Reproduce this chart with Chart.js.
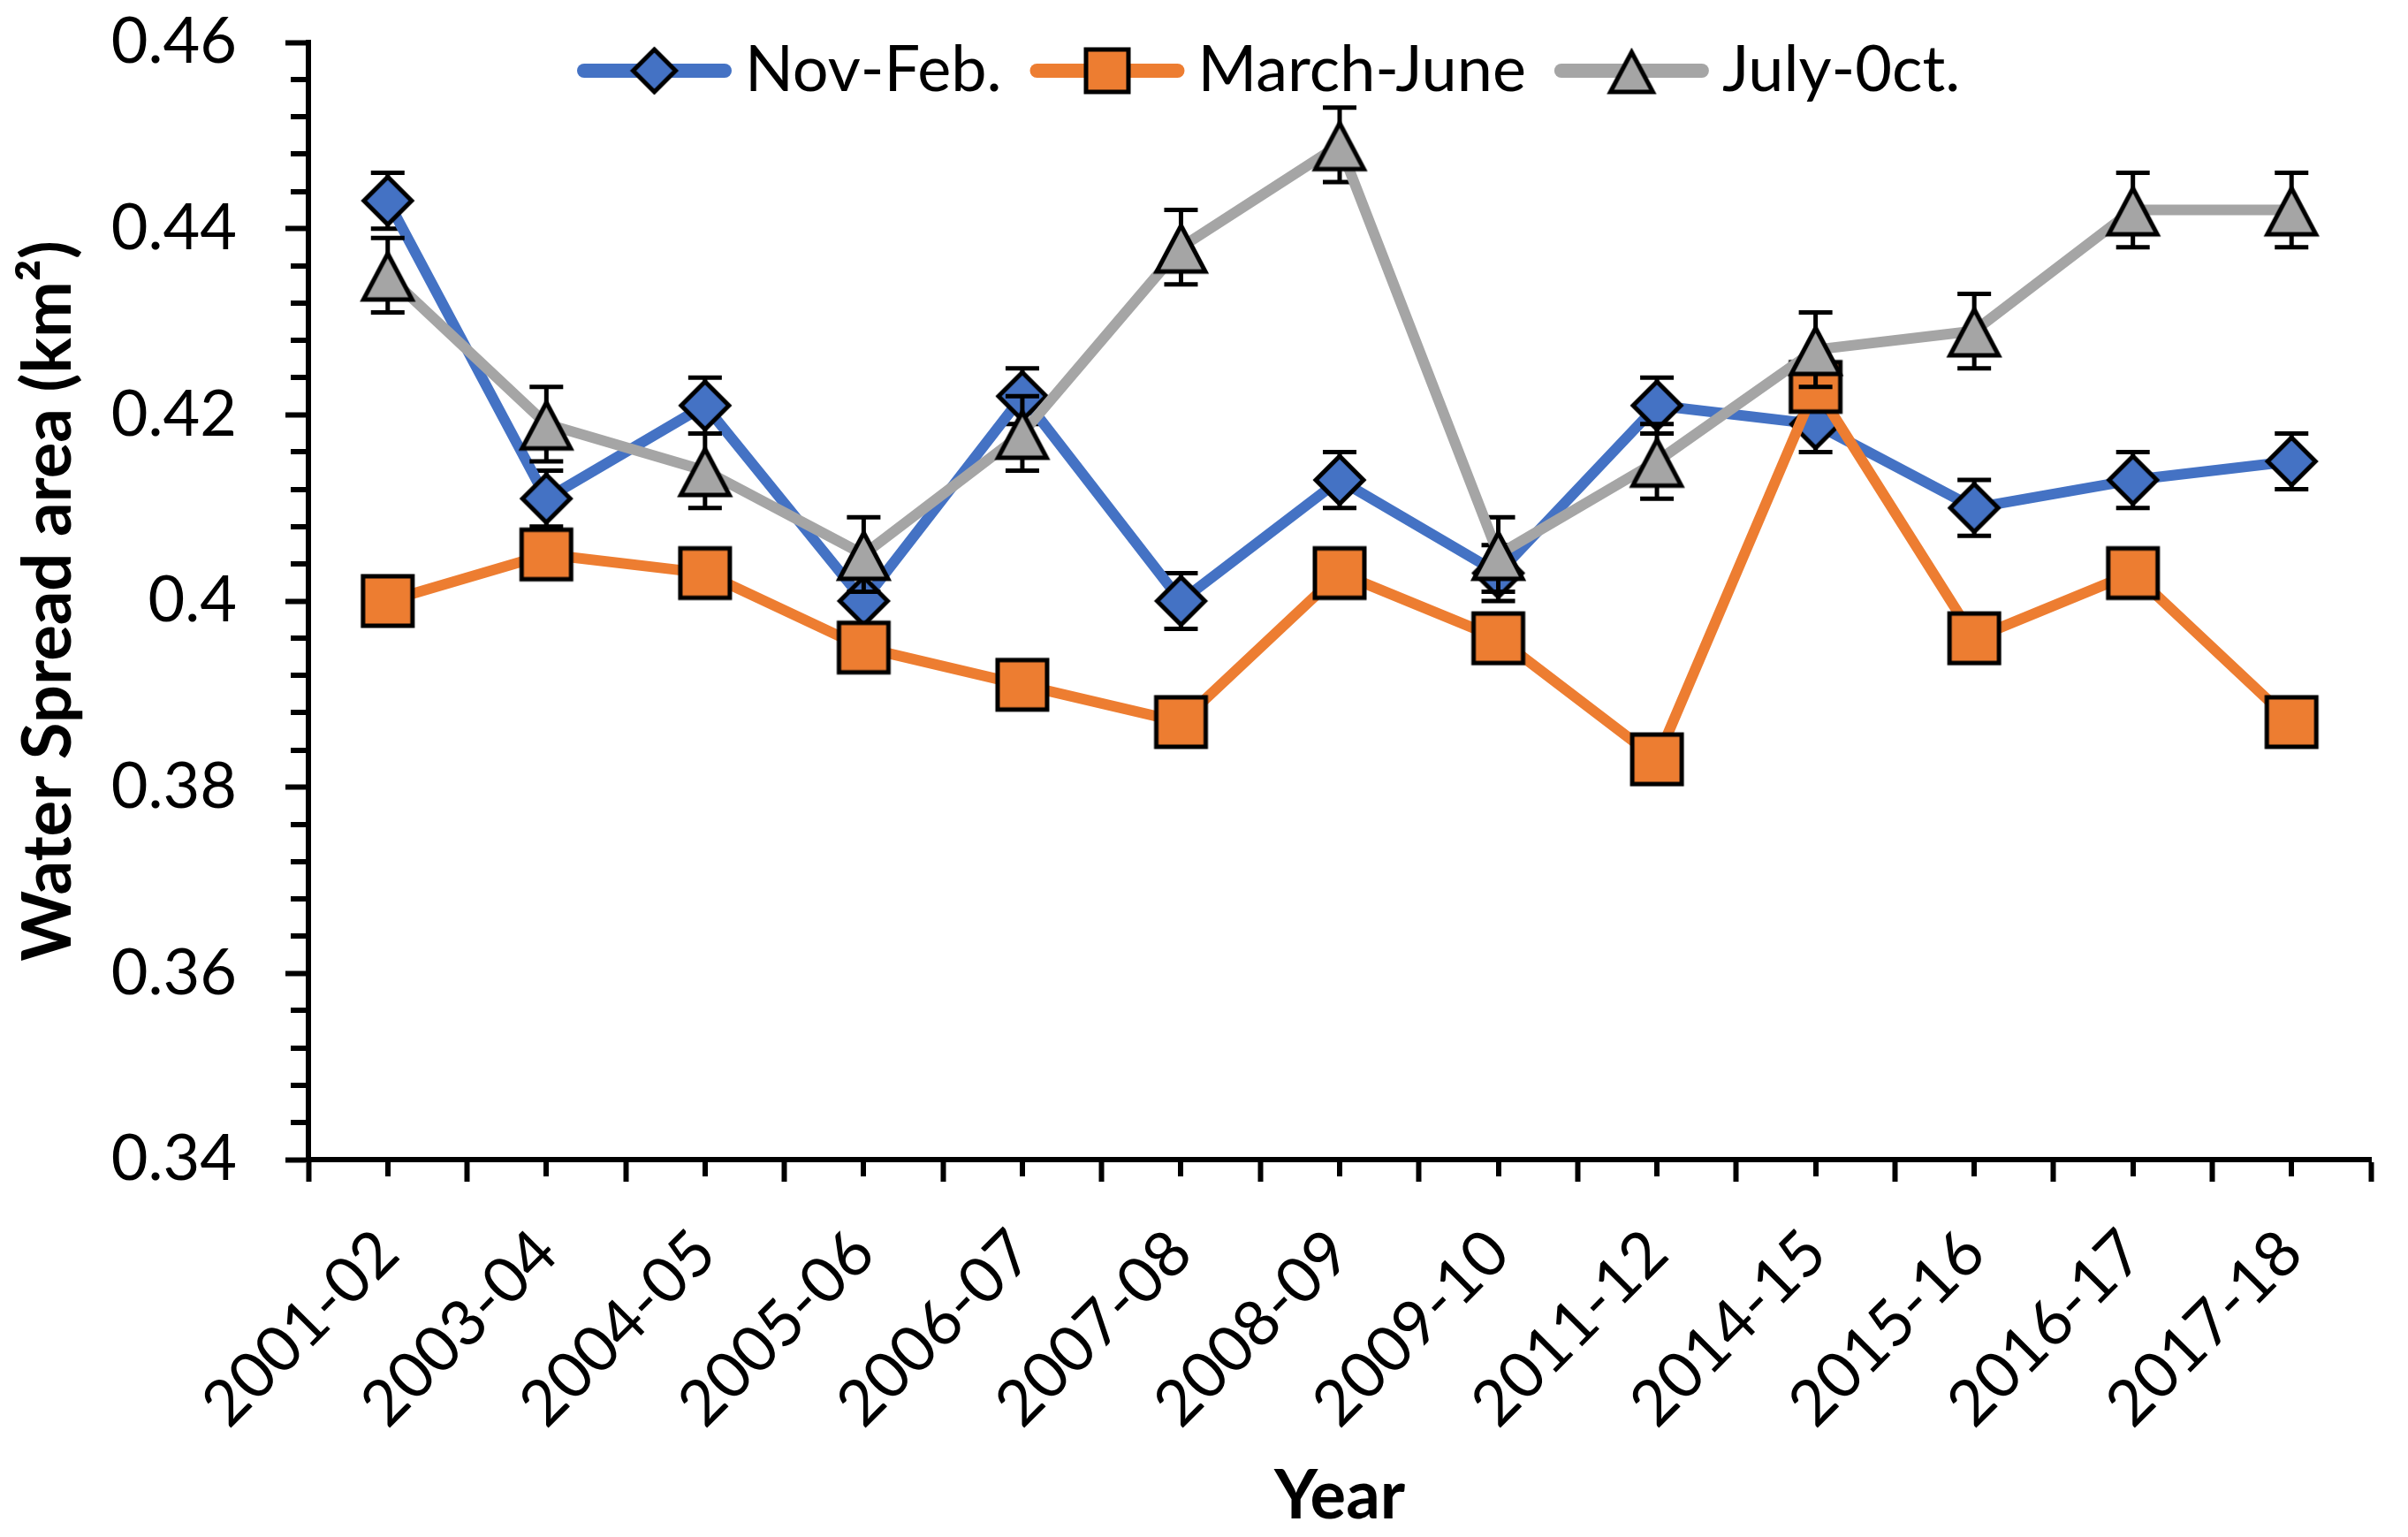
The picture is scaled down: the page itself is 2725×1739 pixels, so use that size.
<!DOCTYPE html>
<html>
<head>
<meta charset="utf-8">
<script src="https://cdn.jsdelivr.net/npm/chart.js@4"></script>
<style>
html,body{margin:0;padding:0;background:#fff;}
canvas{display:block;}
</style>
</head>
<body>
<canvas id="c" width="2725" height="1739"></canvas>
<script>
// ---------------- data ----------------
const categories = ['2001-02','2003-04','2004-05','2005-06','2006-07','2007-08','2008-09','2009-10','2011-12','2014-15','2015-16','2016-17','2017-18'];
const seriesNames = ['Nov-Feb.', 'March-June', 'July-0ct.'];
const novFeb      = [0.443,0.411,0.421,0.400,0.422,0.400,0.413,0.403,0.421,0.419,0.410,0.413,0.415];
const novFebErr   = [0.003,0.003,0.003,0.003,0.003,0.003,0.003,0.003,0.003,0.003,0.003,0.003,0.003];
const marchJune    = [0.400,0.405,0.403,0.395,0.391,0.387,0.403,0.396,0.383,0.423,0.396,0.403,0.387];
const marchJuneErr = [0.002,0.002,0.002,0.002,0.002,0.002,0.002,0.002,0.002,0.002,0.002,0.002,0.002];
const julyOct     = [0.435,0.419,0.414,0.405,0.418,0.438,0.449,0.405,0.415,0.427,0.429,0.442,0.442];
const julyOctErr  = [0.004,0.004,0.004,0.004,0.004,0.004,0.004,0.004,0.004,0.004,0.004,0.004,0.004];
const yTicks = [0.34, 0.36, 0.38, 0.40, 0.42, 0.44, 0.46];
const yMinorPerMajor = 5;

// ---------------- styles ----------------
const BLUE = '#4472C4', ORANGE = '#ED7D31', GRAY = '#A5A5A5';
Chart.defaults.font.family = 'Lato';
Chart.defaults.color = '#000';

function makeMarker(shape, w, h, fill) {
  const bw = 5, m = 8;
  const c = document.createElement('canvas');
  c.width = w + 2 * m; c.height = h + 2 * m;
  const g = c.getContext('2d');
  g.fillStyle = fill; g.strokeStyle = '#000'; g.lineWidth = bw; g.lineJoin = 'miter';
  const L = m, T = m, R = m + w, B = m + h, CX = m + w / 2, CY = m + h / 2;
  g.beginPath();
  if (shape === 'diamond') {
    g.moveTo(CX, T); g.lineTo(R, CY); g.lineTo(CX, B); g.lineTo(L, CY);
  } else if (shape === 'square') {
    g.moveTo(L, T); g.lineTo(R, T); g.lineTo(R, B); g.lineTo(L, B);
  } else {
    g.moveTo(CX, T + 3); g.lineTo(R, B); g.lineTo(L, B);
  }
  g.closePath(); g.fill(); g.stroke();
  return c;
}

const mkDiamond = makeMarker('diamond', 54, 54, BLUE);
const mkSquare  = makeMarker('square', 56, 56, ORANGE);
const mkTri     = makeMarker('triangle', 55, 55, GRAY);
const lgDiamond = makeMarker('diamond', 48, 48, BLUE);
const lgSquare  = makeMarker('square', 48, 48, ORANGE);
const lgTri     = makeMarker('triangle', 48, 48, GRAY);

// error bars drawn beneath each series' line & markers
const errorBarPlugin = {
  id: 'errorBars',
  beforeDatasetDraw(chart, args) {
    const ds = chart.data.datasets[args.index];
    const errs = ds.errors;
    if (!errs) return;
    const xs = chart.scales.x, ys = chart.scales.y, ctx = chart.ctx;
    ctx.save();
    ctx.strokeStyle = '#000'; ctx.lineWidth = 5; ctx.lineCap = 'butt';
    ds.data.forEach((v, i) => {
      const px = xs.getPixelForValue(i);
      const top = ys.getPixelForValue(v + errs[i]);
      const bot = ys.getPixelForValue(v - errs[i]);
      ctx.beginPath();
      ctx.moveTo(px, top); ctx.lineTo(px, bot);
      ctx.moveTo(px - 19, top); ctx.lineTo(px + 19, top);
      ctx.moveTo(px - 19, bot); ctx.lineTo(px + 19, bot);
      ctx.stroke();
    });
    ctx.restore();
  }
};

// minor ticks on both axes
const minorTickPlugin = {
  id: 'minorTicks',
  afterDraw(chart) {
    const {ctx, chartArea, scales: {x, y}} = chart;
    ctx.save();
    ctx.strokeStyle = '#000'; ctx.lineWidth = 6; ctx.lineCap = 'butt';
    ctx.beginPath();
    for (let j = 0; j < yTicks.length - 1; j++) {
      const step = (yTicks[j + 1] - yTicks[j]) / yMinorPerMajor;
      for (let k = 1; k < yMinorPerMajor; k++) {
        const py = Math.round(y.getPixelForValue(yTicks[j] + k * step));
        ctx.moveTo(chartArea.left, py); ctx.lineTo(chartArea.left - 20, py);
      }
    }
    categories.forEach((c, i) => {
      const px = Math.round(x.getPixelForValue(i));
      ctx.moveTo(px, chartArea.bottom); ctx.lineTo(px, chartArea.bottom + 19);
    });
    ctx.stroke();
    ctx.restore();
  }
};

// legend: line + marker + text, placed inside the plot area
const legendPlugin = {
  id: 'lineLegend',
  afterDatasetsDraw(chart) {
    const ctx = chart.ctx;
    let x = 653;
    const cy = 80, baseline = 103, lineLen = 175;
    ctx.save();
    ctx.font = '72px Lato';
    ctx.textBaseline = 'alphabetic';
    ctx.textAlign = 'left';
    chart.data.datasets.forEach(ds => {
      ctx.strokeStyle = ds.borderColor; ctx.lineWidth = 16; ctx.lineCap = 'round';
      ctx.beginPath(); ctx.moveTo(x + 8, cy); ctx.lineTo(x + lineLen - 8, cy); ctx.stroke();
      const img = ds.legendMarker;
      ctx.drawImage(img, x + lineLen / 2 - img.width / 2, cy - img.height / 2);
      ctx.fillStyle = '#000';
      ctx.fillText(ds.label, x + lineLen + 15, baseline);
      x += lineLen + 15 + ctx.measureText(ds.label).width + 32;
    });
    ctx.restore();
  }
};

const lineCommon = { borderWidth: 12, tension: 0, borderJoinStyle: 'round', borderCapStyle: 'round', pointRadius: 30, pointHoverRadius: 30, fill: false };

new Chart(document.getElementById('c'), {
  type: 'line',
  data: {
    labels: categories,
    datasets: [
      Object.assign({ label: seriesNames[0], data: novFeb, errors: novFebErr, borderColor: BLUE, backgroundColor: BLUE, pointStyle: mkDiamond, legendMarker: lgDiamond, order: 3 }, lineCommon),
      Object.assign({ label: seriesNames[1], data: marchJune, errors: marchJuneErr, borderColor: ORANGE, backgroundColor: ORANGE, pointStyle: mkSquare, legendMarker: lgSquare, order: 2 }, lineCommon),
      Object.assign({ label: seriesNames[2], data: julyOct, errors: julyOctErr, borderColor: GRAY, backgroundColor: GRAY, pointStyle: mkTri, legendMarker: lgTri, order: 1 }, lineCommon)
    ]
  },
  options: {
    responsive: false,
    animation: false,
    devicePixelRatio: 1,
    events: [],
    layout: { padding: { left: 0, right: 15, top: 48, bottom: 0 } },
    plugins: { legend: { display: false }, tooltip: { enabled: false } },
    scales: {
      x: {
        type: 'category',
        offset: true,
        grid: { display: true, drawOnChartArea: false, offset: true, drawTicks: true, tickLength: 25, tickWidth: 6, tickColor: '#000' },
        border: { display: true, color: '#000', width: 6 },
        ticks: { autoSkip: false, minRotation: 45, maxRotation: 45, padding: 38, color: '#000', font: { size: 72 } },
        title: { display: true, text: 'Year', color: '#000', font: { size: 76, weight: 'bold' }, padding: { top: 0, bottom: 0 } },
        afterFit(s) { s.height = 1739 - 1312; s.paddingLeft = 0; s.paddingRight = 0; }
      },
      y: {
        min: yTicks[0],
        max: yTicks[yTicks.length - 1],
        afterBuildTicks(s) { s.ticks = yTicks.map(v => ({ value: v })); },
        grid: { display: true, drawOnChartArea: false, drawTicks: true, tickLength: 26, tickWidth: 6, tickColor: '#000' },
        border: { display: true, color: '#000', width: 6 },
        ticks: { padding: 55, color: '#000', font: { size: 72 }, callback: v => String(+(+v).toFixed(2)) },
        title: { display: true, text: 'Water Spread area (km²)', color: '#000', font: { size: 76, weight: 'bold' }, padding: { top: 10, bottom: 0 } },
        afterFit(s) { s.width = 349; s.paddingTop = 0; s.paddingBottom = 0; }
      }
    }
  },
  plugins: [errorBarPlugin, minorTickPlugin, legendPlugin]
});
</script>
</body>
</html>
